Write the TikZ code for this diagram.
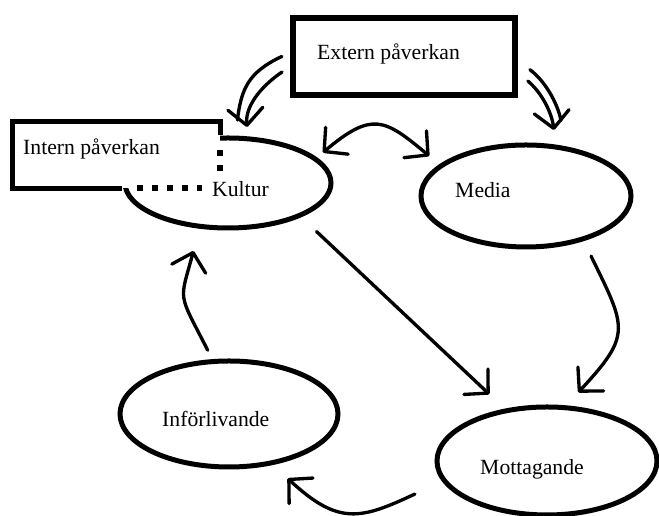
\documentclass[tikz,border=0pt]{standalone}
\usepackage{fontspec}
\setmainfont{Liberation Serif}
\usetikzlibrary{shapes.geometric, arrows.meta}
\tikzset{
blob/.style={draw, ellipse, line width=0.15cm, inner sep=0pt},
box/.style={draw, rectangle, line width=0.16cm, inner sep=0pt},
rim/.style={line width=0.16cm},
dots/.style={line width=0.16cm, dash pattern=on 0.18cm off 0.27cm},
lbl/.style={inner sep=0pt, anchor=base west, font=\fontsize{18.5}{22}\selectfont},
link/.style={line width=0.1cm, line cap=round, line join=round}
}

\begin{document}
\begin{tikzpicture}[x=0.03cm, y=0.03cm,
  >={Straight Barb[length=0.5cm, width=1.05cm, round]}]
\useasboundingbox (0,0) rectangle (659,516);
\node[blob, minimum width=6.18cm, minimum height=2.7cm] (kultur) at (228,333) {};
\node[fill=white, inner sep=0pt, minimum width=6.21cm, minimum height=1.98cm] (intern) at (116.5,361) {};
\draw[rim] (intern.east |- kultur.north) -- (intern.north east) -- (intern.north west)
  -- (intern.south west) -- (kultur.west |- intern.south);
\draw[dots] (220,366) -- (220,344);
\draw[dots] (137,328) -- (202,328);
\node[lbl] (interntxt) at (23,361) {Intern påverkan};
\node[lbl] (kulturtxt) at (212,319) {Kultur};

\node[box, minimum width=6.66cm, minimum height=2.31cm] (extern) at (404,459.5) {};
\node[lbl] (externtxt) at (317,456) {Extern påverkan};
\node[blob, minimum width=6.3cm, minimum height=3.06cm] (media) at (526,320) {};
\node[lbl] (mediatxt) at (455,318) {Media};
\node[blob, minimum width=6.54cm, minimum height=3.18cm] (inforl) at (229,102) {};
\node[lbl] (inforltxt) at (162,89) {Införlivande};
\node[blob, minimum width=6.6cm, minimum height=3.24cm] (mott) at (547,55) {};
\node[lbl] (motttxt) at (480,41) {Mottagande};

% extern paverkan, twin strokes
\draw[link, shorten <=0.28cm, shorten >=0.47cm] (extern.178.8) to[out=205, in=83, looseness=1.2] (kultur.81.5);
\draw[link, ->, shorten <=0.3cm, shorten >=0.28cm] (extern.185) to[out=214, in=95] (kultur.67.6);
\draw[link, shorten <=0.46cm, shorten >=0.78cm] (extern.-2.1) to[out=-37, in=99] (media.52.8);
\draw[link, ->, shorten <=0.4cm, shorten >=0.44cm] (extern.-8.5) to[out=-40, in=97] (media.60.8);

\draw[link, <->, shorten <=0.23cm, shorten >=0.39cm] (kultur.16.5) to[out=40, in=140, looseness=1.5] (media.160.8);
\draw[link, ->, shorten <=0.63cm, shorten >=0.63cm] (kultur.-25) -- (mott.129);
\draw[link, ->, shorten <=0.5cm, shorten >=0.53cm] (media.-38.5) to[out=-64, in=47, looseness=1.5] (mott.71);
\draw[link, ->, shorten <=0.9cm, shorten >=0.59cm] (mott.191.5) to[out=-155, in=-43, looseness=1.35] (inforl.-49);
\draw[link, ->, shorten <=0.3cm, shorten >=0.69cm] (inforl.107.5) to[out=117, in=-105, looseness=1.5] (kultur.238.6);
\end{tikzpicture}
\end{document}
